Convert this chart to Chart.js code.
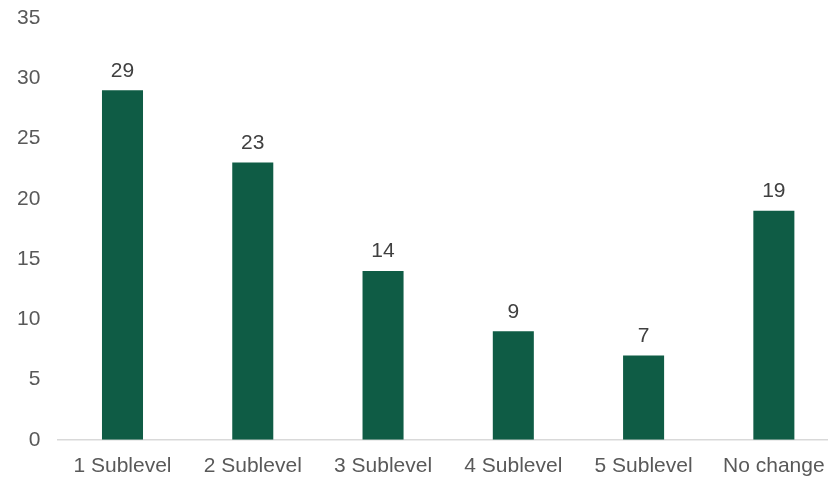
<!DOCTYPE html>
<html><head><meta charset="utf-8">
<script src="https://cdn.jsdelivr.net/npm/chart.js@4/dist/chart.umd.min.js"></script>
<style>html,body{margin:0;padding:0;background:#fff;overflow:hidden}#wrap{width:828px;height:480px;overflow:hidden}</style>
</head><body><div id="wrap"><canvas id="c" width="839" height="480"></canvas></div>
<script>
const categories = ["1 Sublevel","2 Sublevel","3 Sublevel","4 Sublevel","5 Sublevel","No change"];
const values = [29,23,14,9,7,19];
const yTicks = [0,5,10,15,20,25,30,35];

const FONT = '"Liberation Sans", Arial, sans-serif';
const labelPlugin = {
  id:'valLabels',
  afterDatasetsDraw(chart){
    const ctx = chart.ctx;
    const meta = chart.getDatasetMeta(0);
    ctx.save();
    ctx.font = '21px ' + FONT;
    ctx.fillStyle = '#404040';
    ctx.textAlign = 'center';
    ctx.textBaseline = 'bottom';
    meta.data.forEach((bar,i)=>{
      ctx.fillText(String(values[i]), bar.x, bar.y - 9);
    });
    ctx.restore();
  }
};

new Chart(document.getElementById('c'),{
  type:'bar',
  data:{labels:categories,datasets:[{data:values,backgroundColor:'#0F5C45',barPercentage:0.315,categoryPercentage:1}]},
  options:{
    responsive:false,animation:false,
    layout:{padding:{top:18,right:0,left:0,bottom:-13}},
    plugins:{legend:{display:false},tooltip:{enabled:false}},
    scales:{
      x:{grid:{display:false,drawTicks:false},border:{display:true,color:'#d9d9d9',width:1.5},
         afterFit:(s)=>{s.paddingLeft=0;s.paddingRight=0;},
         ticks:{color:'#595959',font:{family:FONT,size:21},padding:14,maxRotation:0}},
      y:{min:0,max:35,afterBuildTicks:(s)=>{s.ticks=yTicks.map(v=>({value:v}));},
         afterFit:(s)=>{s.paddingTop=0;s.paddingBottom=0;},
         grid:{display:false,drawTicks:false},border:{display:false},
         ticks:{color:'#595959',font:{family:FONT,size:21},padding:17}}
    }
  },
  plugins:[labelPlugin]
});
</script></body></html>
